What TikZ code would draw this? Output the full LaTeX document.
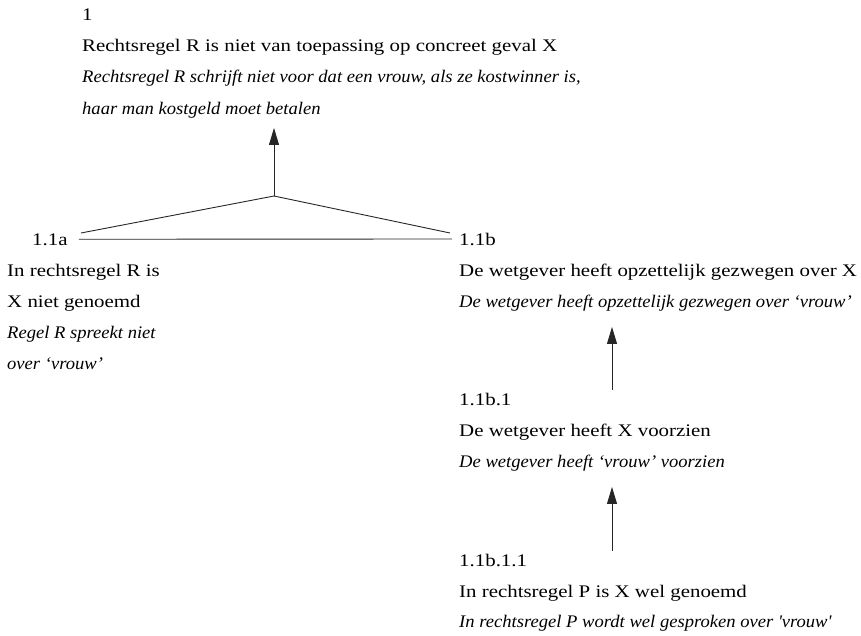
\documentclass[tikz,border=0pt]{standalone}
\usepackage{fontspec}
\setmainfont{Liberation Serif}[FakeStretch=1.18]
\newfontfamily\cursieffont{Liberation Serif}[FakeStretch=1.05]
\usetikzlibrary{arrows.meta}

\begin{document}
\begin{tikzpicture}[x=1pt,y=-1pt,
    tekst/.style={anchor=base west, inner sep=0pt, font=\fontsize{17.7}{21}\selectfont},
    cursief/.style={tekst, font=\fontsize{17.7}{21}\cursieffont\itshape},
    lijn/.style={line width=0.9pt, draw=black!85},
    pijl/.style={lijn, -{Triangle[length=17pt,width=10pt]}}]
\useasboundingbox (0,0) rectangle (861,636);

% Standpunt 1
\node[tekst] (nr1) at (82,21) {1};
\node[tekst] (st1) at (82,52) {Rechtsregel R is niet van toepassing op concreet geval X};
\node[cursief] (ct1a) at (82,83) {Rechtsregel R schrijft niet voor dat een vrouw, als ze kostwinner is,};
\node[cursief] (ct1b) at (82,115) {haar man kostgeld moet betalen};

% Argument 1.1a (links)
\node[tekst] (nr11a) at (32,245) {1.1a};
\node[tekst] (st11a) at (7,276) {In rechtsregel R is};
\node[tekst] (st11a2) at (7,307) {X niet genoemd};
\node[cursief] (ct11a) at (7,338) {Regel R spreekt niet};
\node[cursief] (ct11a2) at (7,369) {over ‘vrouw’};

% Argument 1.1b (rechts)
\node[tekst] (nr11b) at (459,245) {1.1b};
\node[tekst] (st11b) at (459,276) {De wetgever heeft opzettelijk gezwegen over X};
\node[cursief] (ct11b) at (459,307) {De wetgever heeft opzettelijk gezwegen over ‘vrouw’};

% Argument 1.1b.1
\node[tekst] (nr11b1) at (459,405) {1.1b.1};
\node[tekst] (st11b1) at (459,436) {De wetgever heeft X voorzien};
\node[cursief] (ct11b1) at (459,467) {De wetgever heeft ‘vrouw’ voorzien};

% Argument 1.1b.1.1
\node[tekst] (nr11b11) at (459,566) {1.1b.1.1};
\node[tekst] (st11b11) at (459,597) {In rechtsregel P is X wel genoemd};
\node[cursief] (ct11b11) at (459,627) {In rechtsregel P wordt wel gesproken over \textquotesingle vrouw\textquotesingle};

% verbindingen
\coordinate (top) at (274,196);
\coordinate (eindA) at (81,233);
\coordinate (eindB) at (450,233);
\coordinate (kol) at (612,0);
\draw[pijl, shorten >=9pt] (top) -- (top |- ct1b.south);
\draw[lijn] (eindA) -- (top) -- (eindB);
\draw[lijn, shorten <=11pt, shorten >=7pt] (nr11a.east) -- (nr11b.west);
\draw[pijl, shorten <=3pt, shorten >=16pt] (kol |- nr11b1.north) -- (kol |- ct11b.south);
\draw[pijl, shorten <=3pt, shorten >=16pt] (kol |- nr11b11.north) -- (kol |- ct11b1.south);
\end{tikzpicture}
\end{document}
